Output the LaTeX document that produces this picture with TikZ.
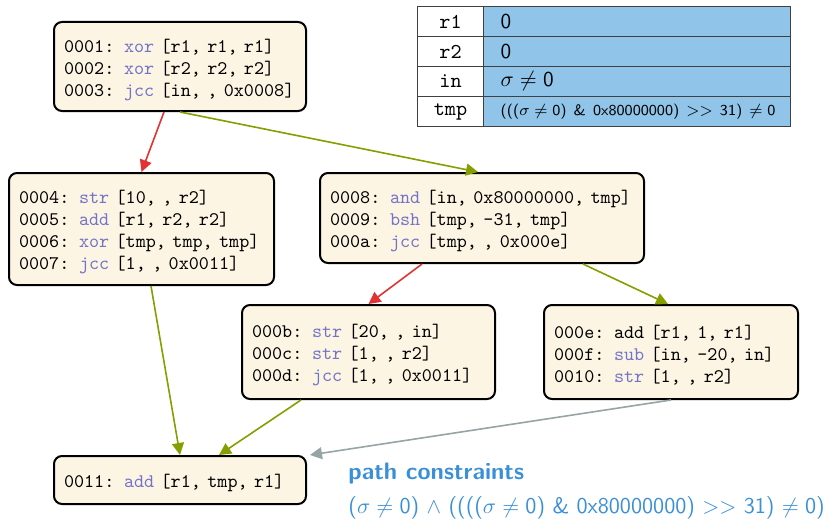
\documentclass[tikz,border=0pt]{standalone}
\usepackage{amsmath,amssymb}
\usepackage{tikz}
\usepackage{xcolor}
\usetikzlibrary{arrows.meta}

\definecolor{boxfill}{RGB}{252,245,227}
\definecolor{kwcol}{RGB}{115,115,200}
\definecolor{cellblue}{RGB}{144,196,232}
\definecolor{redge}{RGB}{224,52,52}
\definecolor{gedge}{RGB}{134,158,0}
\definecolor{grayedge}{RGB}{149,165,166}
\definecolor{pcblue}{RGB}{58,143,214}
\newcommand{\kw}[1]{\textcolor{kwcol}{#1}}
\newcommand{\topgap}{\rule{0pt}{10pt}}

\begin{document}
\begin{tikzpicture}[x=0.5pt,y=-0.5pt,
  block/.style={draw, line width=1pt, rounded corners=4pt, fill=boxfill, anchor=north west, align=left, inner xsep=5pt, inner ysep=0pt, font=\ttfamily\fontsize{9.6}{11}\selectfont},
  flow/.style={line width=0.8pt, -{Triangle[length=6pt,width=6pt]}},
  keycell/.style={draw=black!75, line width=0.5pt, anchor=north west, minimum width=33pt, minimum height=15pt, inner sep=0pt, font=\ttfamily\fontsize{10.6}{12}\selectfont},
  valcell/.style={draw=black!75, line width=0.5pt, fill=cellblue, anchor=north west, minimum height=15pt, text width=136.5pt, inner xsep=8.5pt, inner ysep=0pt, align=left, font=\sffamily\fontsize{10.6}{12}\selectfont}]
  \useasboundingbox (0,0) rectangle (828,519);

  \node[block, text width=116pt, minimum height=44.5pt] (b0001) at (53,21) {\topgap0001: \kw{xor} [r1, r1, r1]\\0002: \kw{xor} [r2, r2, r2]\\0003: \kw{jcc} [in, , 0x0008]};
  \node[block, text width=122.5pt, minimum height=56pt] (b0004) at (8,172) {\topgap0004: \kw{str} [10, , r2]\\0005: \kw{add} [r1, r2, r2]\\0006: \kw{xor} [tmp, tmp, tmp]\\0007: \kw{jcc} [1, , 0x0011]};
  \node[block, text width=152pt, minimum height=45pt] (b0008) at (319,172) {\topgap0008: \kw{and} [in, 0x80000000, tmp]\\0009: \kw{bsh} [tmp, -31, tmp]\\000a: \kw{jcc} [tmp, , 0x000e]};
  \node[block, text width=116.5pt, minimum height=47pt] (b000b) at (241,304) {\topgap000b: \kw{str} [20, , in]\\000c: \kw{str} [1, , r2]\\000d: \kw{jcc} [1, , 0x0011]};
  \node[block, text width=117pt, minimum height=47pt] (b000e) at (543,304) {\topgap000e: add [r1, 1, r1]\\000f: \kw{sub} [in, -20, in]\\0010: \kw{str} [1, , r2]};
  \node[block, text width=116pt, minimum height=24pt] (b0011) at (53,455) {\topgap0011: \kw{add} [r1, tmp, r1]};

  \node[keycell] (kr1) at (417,6) {r1}; \node[valcell] (vr1) at (483,6) {0};
  \node[keycell] (kr2) at (417,36) {r2}; \node[valcell] (vr2) at (483,36) {0};
  \node[keycell] (kin) at (417,66) {in}; \node[valcell] (vin) at (483,66) {\(\sigma\neq{}\)0};
  \node[keycell] (ktmp) at (417,96) {tmp}; \node[valcell] (vtmp) at (483,96) {\fontsize{7.6}{9}\selectfont\mbox{(((\(\sigma\neq{}\)0) \& 0x80000000) \(>>\) 31) \(\neq{}\)0}};

  \draw[flow, redge] ([xshift=-8pt]b0001.south) -- (b0004.north);
  \draw[flow, gedge] (b0001.south) -- ([xshift=-2pt]b0008.north);
  \draw[flow, redge] ([xshift=-30pt]b0008.south) -- (b000b.north);
  \draw[flow, gedge] ([xshift=50.5pt]b0008.south) -- ([xshift=-1.5pt]b000e.north);
  \draw[flow, gedge] ([xshift=4.75pt]b0004.south) -- (b0011.north);
  \draw[flow, gedge] ([xshift=-33.75pt]b000b.south) -- ([xshift=19.5pt]b0011.north);
  \draw[flow, grayedge] (b000e.south) -- ([xshift=1.5pt]b0011.north east);

  \node[anchor=west, inner sep=0pt, text=pcblue, font=\sffamily\bfseries\fontsize{11.9}{14}\selectfont] (pc) at (348,474) {path constraints};
  \node[anchor=west, inner sep=0pt, text=pcblue, font=\sffamily\fontsize{11.3}{13}\selectfont] (pcf) at (348,508) {(\(\sigma\neq{}\)0) \(\land\) ((((\(\sigma\neq{}\)0) \& 0x80000000) \(>>\) 31) \(\neq{}\)0)};
\end{tikzpicture}
\end{document}
